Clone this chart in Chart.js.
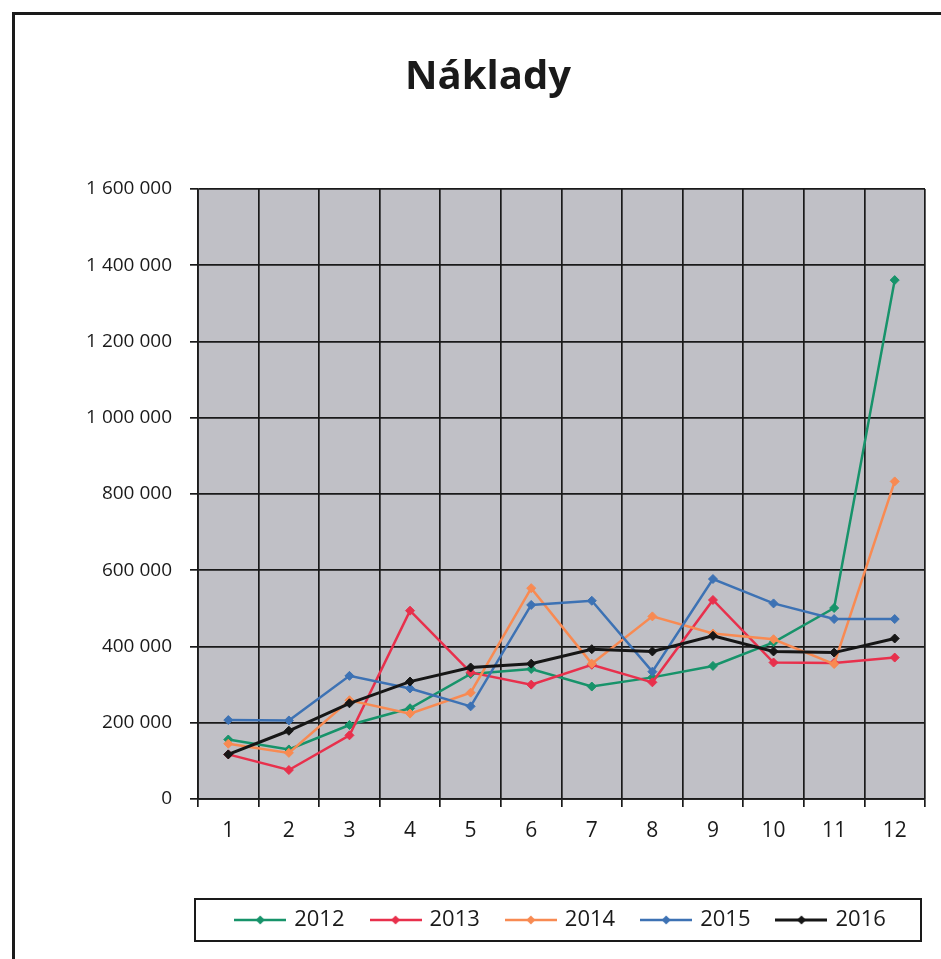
<!DOCTYPE html>
<html>
<head>
<meta charset="utf-8">
<script src="https://cdn.jsdelivr.net/npm/chart.js@4/dist/chart.umd.min.js"></script>
<style>
  html, body { margin: 0; padding: 0; background: #fff; }
  #wrap { position: relative; width: 941px; height: 959px; overflow: hidden; }
  #frame { position: absolute; left: 12px; top: 12px; width: 1000px; height: 1000px;
           border-left: 3px solid #1a1a1a; border-top: 3px solid #1a1a1a; pointer-events: none; }
  canvas { position: absolute; left: 0; top: 0; }
</style>
</head>
<body>
<div id="wrap">
  <canvas id="costChart" width="941" height="959"></canvas>
  <div id="frame"></div>
</div>
<script>
// months on the x axis
const months = ['1', '2', '3', '4', '5', '6', '7', '8', '9', '10', '11', '12'];
const years = ['2012', '2013', '2014', '2015', '2016'];

// values
const costs2012 = [156000, 130000, 194000, 238000, 328000, 341000, 295000, 319000, 349000, 411000, 501000, 1361000];
const costs2013 = [117000, 76000, 167000, 494000, 332000, 300000, 352000, 306000, 522000, 358000, 357000, 371000];
const costs2014 = [145000, 121000, 259000, 224000, 279000, 553000, 355000, 479000, 434000, 419000, 354000, 833000];
const costs2015 = [207000, 206000, 323000, 290000, 243000, 509000, 520000, 334000, 577000, 513000, 472000, 472000];
const costs2016 = [117000, 179000, 251000, 308000, 345000, 355000, 393000, 387000, 428000, 387000, 384000, 421000];

const yTicks = [0, 200000, 400000, 600000, 800000, 1000000, 1200000, 1400000, 1600000];

const colors = ['#17936a', '#e8304c', '#f88a52', '#3d72b4', '#161616'];
const seriesValues = [costs2012, costs2013, costs2014, costs2015, costs2016];

function fmt(v) {
    return String(v).replace(/\B(?=(\d{3})+(?!\d))/g, ' ');
}

// little line + diamond icon for the legend
function legendIcon(color, width) {
    const c = document.createElement('canvas');
    c.width = 52;
    c.height = 12;
    const ctx = c.getContext('2d');
    ctx.strokeStyle = color;
    ctx.lineWidth = width;
    ctx.beginPath();
    ctx.moveTo(0, 6);
    ctx.lineTo(52, 6);
    ctx.stroke();
    ctx.fillStyle = color;
    ctx.beginPath();
    ctx.moveTo(26, 1.5);
    ctx.lineTo(30.5, 6);
    ctx.lineTo(26, 10.5);
    ctx.lineTo(21.5, 6);
    ctx.closePath();
    ctx.fill();
    return c;
}

const plotBackground = {
    id: 'plotBackground',
    beforeDraw(chart) {
        const a = chart.chartArea;
        const ctx = chart.ctx;
        ctx.save();
        ctx.fillStyle = '#c0c0c6';
        ctx.fillRect(a.left, a.top, a.right - a.left, a.bottom - a.top);
        ctx.restore();
    }
};

const legendFrame = {
    id: 'legendFrame',
    afterDraw(chart) {
        const lg = chart.legend;
        if (!lg || !lg.legendHitBoxes.length) return;
        const hb = lg.legendHitBoxes[0];
        const ctx = chart.ctx;
        ctx.save();
        ctx.strokeStyle = '#1a1a1a';
        ctx.lineWidth = 2;
        ctx.strokeRect(lg.left - 3, hb.top - 10, lg.right - lg.left - 1, hb.height + 20);
        ctx.restore();
    }
};

const datasets = years.map((y, i) => ({
    label: y,
    data: seriesValues[i],
    borderColor: colors[i],
    backgroundColor: colors[i],
    borderWidth: i === 4 ? 3 : 2.5,
    pointStyle: 'rectRot',
    pointRadius: 4.5,
    pointBorderWidth: 1,
    pointBackgroundColor: colors[i],
    tension: 0,
    order: years.length - 1 - i
}));

new Chart(document.getElementById('costChart'), {
    type: 'line',
    data: { labels: months, datasets: datasets },
    plugins: [plotBackground, legendFrame],
    options: {
        responsive: false,
        animation: false,
        layout: { padding: { left: 51, right: 16, top: 0, bottom: 18 } },
        plugins: {
            title: {
                display: true,
                text: 'Náklady',
                color: '#1a1a1a',
                font: { family: '"Open Sans", sans-serif', size: 40, weight: 'bold' },
                padding: { top: 54, bottom: 87 }
            },
            legend: {
                position: 'bottom',
                fullSize: false,
                labels: {
                    usePointStyle: true,
                    pointStyleWidth: 46,
                    padding: 28,
                    color: '#1a1a1a',
                    font: { family: '"Open Sans", sans-serif', size: 22 },
                    sort: (a, b) => a.datasetIndex - b.datasetIndex,
                    generateLabels(chart) {
                        const items = Chart.defaults.plugins.legend.labels.generateLabels(chart);
                        items.forEach(it => {
                            it.pointStyle = legendIcon(colors[it.datasetIndex], it.datasetIndex === 4 ? 3 : 2.5);
                            it.rotation = 0;
                        });
                        return items;
                    }
                }
            },
            tooltip: { enabled: false }
        },
        scales: {
            x: {
                offset: true,
                grid: { offset: true, color: '#1a1a1a', lineWidth: 1.7, tickLength: 8 },
                border: { color: '#1a1a1a', width: 1.7 },
                ticks: {
                    color: '#1a1a1a',
                    padding: 11,
                    maxRotation: 0,
                    font: { family: '"Open Sans", sans-serif', size: 21 }
                },
                afterFit(scale) { scale.height = 82; }
            },
            y: {
                min: 0,
                max: 1600000,
                grid: { color: '#1a1a1a', lineWidth: 1.7, tickLength: 8 },
                border: { color: '#1a1a1a', width: 1.7 },
                afterBuildTicks(scale) { scale.ticks = yTicks.map(v => ({ value: v })); },
                ticks: {
                    color: '#1a1a1a',
                    padding: 18,
                    font: { family: '"Open Sans", sans-serif', size: 19 },
                    callback: v => fmt(v)
                },
                afterFit(scale) { scale.width = 147; }
            }
        }
    }
});
</script>
</body>
</html>
